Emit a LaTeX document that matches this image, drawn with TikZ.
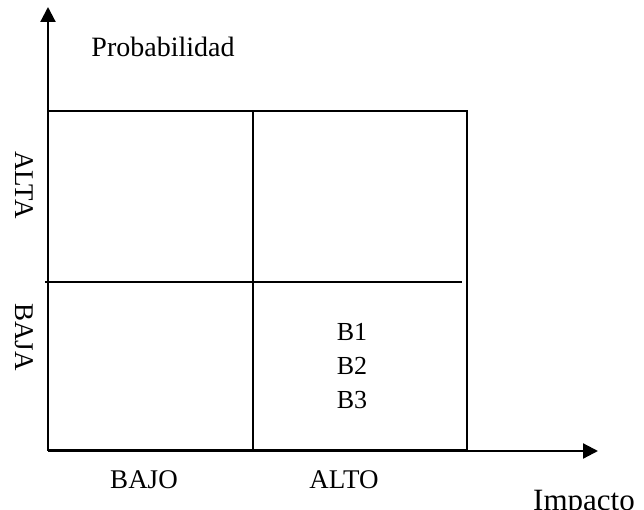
\documentclass[tikz,border=0pt]{standalone}
\usepackage{fontspec}
\setmainfont{Liberation Serif}
\usetikzlibrary{arrows.meta}
\begin{document}
\begin{tikzpicture}[x=1pt,y=-1pt,
  lbl/.style={inner sep=0pt},
  big/.style={lbl, font=\fontsize{27}{32}\selectfont},
  small/.style={lbl, font=\fontsize{26}{30}\selectfont},
  gridline/.style={line width=2pt},
  axisline/.style={line width=2.2pt, -{Triangle[width=15pt,length=15pt]}}]
\useasboundingbox (0,0) rectangle (644,510);
% axes
\coordinate (O) at (48,450);
\coordinate (Ytip) at (48,7);
\coordinate (Ox) at (48,451);
\coordinate (Xtip) at (598,451);
\draw[axisline] (O) -- (Ytip);
\draw[axisline] (Ox) -- (Xtip);
% matrix
\coordinate (TL) at (48,111);
\coordinate (BR) at (467,450);
\draw[gridline] (TL) rectangle (BR);
\coordinate (MT) at (253,111);
\coordinate (MB) at (253,450);
\draw[gridline] (MT) -- (MB);
\coordinate (ML) at (45,282);
\coordinate (MR) at (462,282);
\draw[gridline] (ML) -- (MR);
% labels
\node[lbl, font=\fontsize{28}{32}\selectfont, anchor=base] (prob) at (163,57) {Probabilidad};
\node[big, rotate=-90] (alta) at (24,185) {ALTA};
\node[big, rotate=-90] (baja) at (24,337) {BAJA};
\node[big, anchor=base] (bajo) at (144,488) {BAJO};
\node[big, anchor=base] (alto) at (344,488) {ALTO};
\node[lbl, font=\fontsize{31}{36}\selectfont, anchor=base west] (imp) at (533,510) {Impacto};
\node[small, anchor=base] (b1) at (352,340) {B1};
\node[small, anchor=base] (b2) at (352,374) {B2};
\node[small, anchor=base] (b3) at (352,408) {B3};
\end{tikzpicture}
\end{document}
